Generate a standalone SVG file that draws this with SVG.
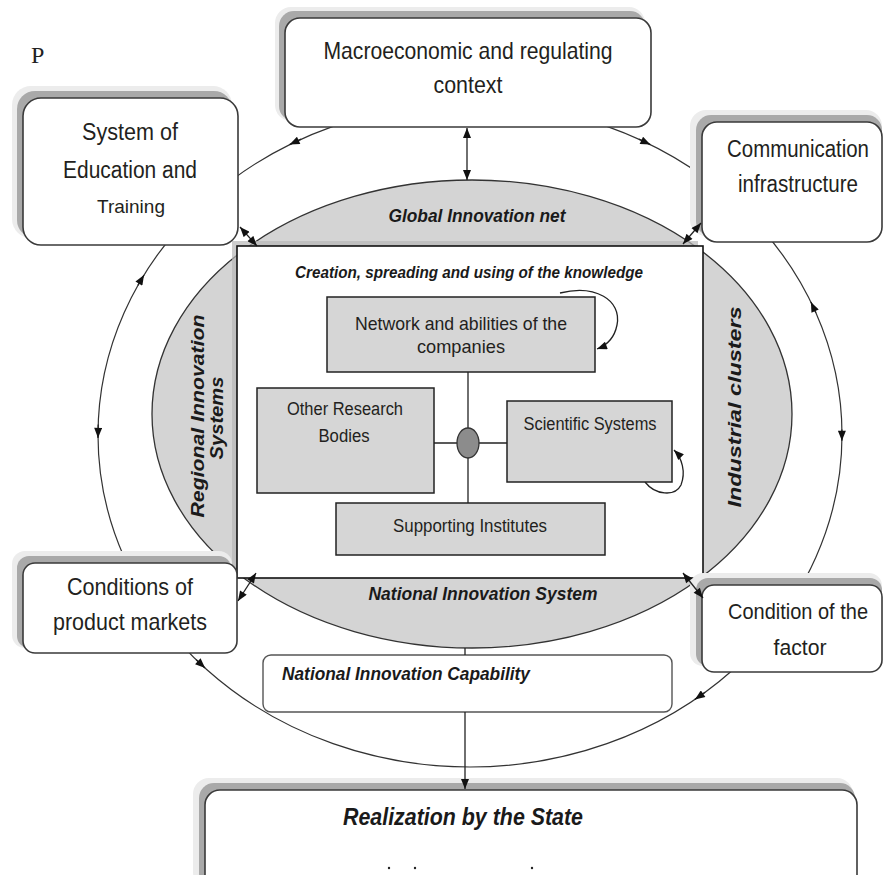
<svg xmlns="http://www.w3.org/2000/svg" width="886" height="875" viewBox="0 0 886 875">
<defs>
<marker id="ah" viewBox="0 0 10 8" refX="10" refY="4" markerWidth="11" markerHeight="8" orient="auto-start-reverse" markerUnits="userSpaceOnUse"><path d="M0,0 L10,4 L0,8 z" fill="#111"/></marker>
</defs>
<style>
.lbl{font-family:'Liberation Sans Narrow','Liberation Sans',Arial,sans-serif;fill:#231f20;text-anchor:middle}
.it{font-family:'Liberation Sans Narrow','Liberation Sans',Arial,sans-serif;font-style:italic;font-weight:bold;fill:#1a1a1a;text-anchor:middle}
.box{fill:#fff;stroke:#3a3a3a;stroke-width:1.6}
.sh1{fill:#ececec}
.sh2{fill:#a9a9a9}
.inner{fill:#d6d6d6;stroke:#222;stroke-width:1.5}
.ln{fill:none;stroke:#222;stroke-width:1.3}
.ring{fill:none;stroke:#333;stroke-width:1.2}
.arr{fill:none;stroke:#222;stroke-width:1.3;marker-end:url(#ah)}
.darr{fill:none;stroke:#222;stroke-width:1.3;marker-start:url(#ah);marker-end:url(#ah)}
</style>
<rect width="886" height="875" fill="#fff"/>
<text x="31" y="63" font-family="'Liberation Serif','DejaVu Serif',serif" font-size="24" fill="#222">P</text>

<g id="ring">
<ellipse class="ring" cx="470" cy="435" rx="372" ry="332"/>
<path class="arr" d="M301.1,139.2 L289.6,144.6"/>
<path class="arr" d="M638.9,139.2 L650.4,144.6"/>
<path class="arr" d="M815.9,312.8 L810.9,302.0"/>
<path class="arr" d="M841.9,429.5 L841.9,440.8"/>
<path class="arr" d="M705.1,692.3 L694.9,699.4"/>
<path class="arr" d="M196.2,659.7 L205.1,668.1"/>
<path class="arr" d="M137.9,285.3 L144.0,275.0"/>
<path class="arr" d="M98.2,424.6 L98.0,437.9"/>
</g>

<g id="global-innovation-net">
<ellipse cx="472" cy="414" rx="320" ry="234" fill="#d4d4d4" stroke="#333" stroke-width="1.3"/>
<text class="it" x="477" y="222" font-size="19" textLength="177" lengthAdjust="spacingAndGlyphs">Global Innovation net</text>
<text class="it" x="483" y="600" font-size="19" textLength="229" lengthAdjust="spacingAndGlyphs">National Innovation System</text>
<text class="it" transform="translate(204,416) rotate(-90)" font-size="19" fill="#3a2020" textLength="203" lengthAdjust="spacingAndGlyphs">Regional Innovation</text>
<text class="it" transform="translate(223,418) rotate(-90)" font-size="19" fill="#3a2020" textLength="83" lengthAdjust="spacingAndGlyphs">Systems</text>
<text class="it" transform="translate(741,407) rotate(-90)" font-size="19" textLength="201" lengthAdjust="spacingAndGlyphs">Industrial  clusters</text>
</g>

<g id="knowledge-core">
<rect x="232" y="241" width="466" height="332" fill="#b8b8b8" opacity="0.7"/>
<rect x="237" y="246" width="466" height="332" fill="#fff" stroke="#111" stroke-width="1.6"/>
<text class="it" x="469" y="278" font-size="16" textLength="348" lengthAdjust="spacingAndGlyphs">Creation, spreading and using of the knowledge</text>
</g>

<g id="macro">
<rect class="sh1" x="275" y="7" width="370" height="114" rx="16"/>
<rect class="sh2" x="279" y="11" width="366" height="110" rx="15"/>
<rect class="box" x="285" y="18" width="366" height="109" rx="15"/>
<text class="lbl" x="468" y="59" font-size="24" textLength="289" lengthAdjust="spacingAndGlyphs">Macroeconomic and regulating</text>
<text class="lbl" x="468" y="93" font-size="24" textLength="69" lengthAdjust="spacingAndGlyphs">context</text>
</g>

<g id="education">
<rect class="sh1" x="12" y="86" width="220" height="152" rx="19"/>
<rect class="sh2" x="17" y="91" width="215" height="147" rx="18"/>
<rect class="box" x="23" y="98" width="215" height="147" rx="18"/>
<text class="lbl" x="130" y="140" font-size="23" textLength="96" lengthAdjust="spacingAndGlyphs">System of</text>
<text class="lbl" x="130" y="178" font-size="23" textLength="134" lengthAdjust="spacingAndGlyphs">Education and</text>
<text class="lbl" x="131" y="213" font-size="19" textLength="68" lengthAdjust="spacingAndGlyphs">Training</text>
</g>

<g id="communication">
<rect class="sh1" x="690" y="110" width="192" height="126" rx="16"/>
<rect class="sh2" x="696" y="115" width="186" height="121" rx="15"/>
<rect class="box" x="702" y="122" width="180" height="120" rx="15"/>
<text class="lbl" x="798" y="157" font-size="23" textLength="142" lengthAdjust="spacingAndGlyphs">Communication</text>
<text class="lbl" x="798" y="192" font-size="23" textLength="120" lengthAdjust="spacingAndGlyphs">infrastructure</text>
</g>

<g id="product-markets">
<rect class="sh1" x="12" y="551" width="220" height="97" rx="13"/>
<rect class="sh2" x="17" y="556" width="214" height="92" rx="12"/>
<rect class="box" x="23" y="563" width="214" height="90" rx="12"/>
<text class="lbl" x="130" y="595" font-size="24" textLength="126" lengthAdjust="spacingAndGlyphs">Conditions  of</text>
<text class="lbl" x="130" y="630" font-size="24" textLength="154" lengthAdjust="spacingAndGlyphs">product markets</text>
</g>

<g id="factor">
<rect class="sh1" x="690" y="573" width="192" height="93" rx="13"/>
<rect class="sh2" x="696" y="578" width="186" height="88" rx="12"/>
<rect class="box" x="702" y="585" width="180" height="87" rx="12"/>
<text class="lbl" x="798" y="619" font-size="22" textLength="140" lengthAdjust="spacingAndGlyphs">Condition of the</text>
<text class="lbl" x="800" y="655" font-size="22" textLength="53" lengthAdjust="spacingAndGlyphs">factor</text>
</g>

<g id="capability">
<rect x="263" y="655" width="409" height="57" rx="8" fill="#fff" stroke="#555" stroke-width="1.4"/>
<text class="it" x="406" y="680" font-size="19" textLength="248" lengthAdjust="spacingAndGlyphs">National Innovation  Capability</text>
</g>

<g id="realization">
<rect class="sh1" x="193" y="778" width="660" height="110" rx="16"/>
<rect class="sh2" x="199" y="783" width="656" height="105" rx="15"/>
<rect class="box" x="205" y="790" width="652" height="110" rx="15"/>
<text class="it" x="463" y="825" font-size="23" textLength="240" lengthAdjust="spacingAndGlyphs">Realization by the State</text>
<circle cx="389" cy="868" r="1.2" fill="#222"/>
<circle cx="415" cy="868" r="1.2" fill="#222"/>
<circle cx="532" cy="868" r="1.2" fill="#222"/>
</g>

<g id="connectors">
<path class="ln" d="M468,372 L468,503"/>
<path class="ln" d="M434,443 L507,443"/>
<path class="darr" d="M240,227 L257,246"/>
<path class="darr" d="M701,223 L683,244"/>
<path class="darr" d="M238,601 L256,573"/>
<path class="darr" d="M683,573 L703,598"/>
<path class="darr" d="M467,128 L467,180"/>
<path class="ln" d="M465,648 L465,655"/>
<path class="arr" d="M465,712 L465,789"/>
<path class="arr" d="M560,293 C595,284 622,300 617,325 C614,340 605,346 597,349"/>
<path class="arr" d="M645,482 C655,495 675,497 681,485 C686,472 682,458 674,450"/>
</g>

<g id="network">
<rect class="inner" x="327" y="297" width="268" height="75"/>
<text class="lbl" x="461" y="330" font-size="19" textLength="212" lengthAdjust="spacingAndGlyphs">Network and abilities of the</text>
<text class="lbl" x="461" y="353" font-size="19" textLength="88" lengthAdjust="spacingAndGlyphs">companies</text>
</g>
<g id="other-research">
<rect class="inner" x="257" y="388" width="177" height="105"/>
<text class="lbl" x="345" y="415" font-size="18" textLength="116" lengthAdjust="spacingAndGlyphs">Other Research</text>
<text class="lbl" x="344" y="442" font-size="18" textLength="51" lengthAdjust="spacingAndGlyphs">Bodies</text>
</g>
<g id="scientific">
<rect class="inner" x="507" y="401" width="165" height="81"/>
<text class="lbl" x="590" y="430" font-size="18" textLength="133" lengthAdjust="spacingAndGlyphs">Scientific Systems</text>
</g>
<g id="supporting">
<rect class="inner" x="336" y="503" width="269" height="52"/>
<text class="lbl" x="470" y="532" font-size="18" textLength="154" lengthAdjust="spacingAndGlyphs">Supporting Institutes</text>
</g>
<g id="hub">
<ellipse cx="468" cy="443" rx="11" ry="15" fill="#8c8c8c" stroke="#333" stroke-width="1.3"/>
</g>
</svg>
